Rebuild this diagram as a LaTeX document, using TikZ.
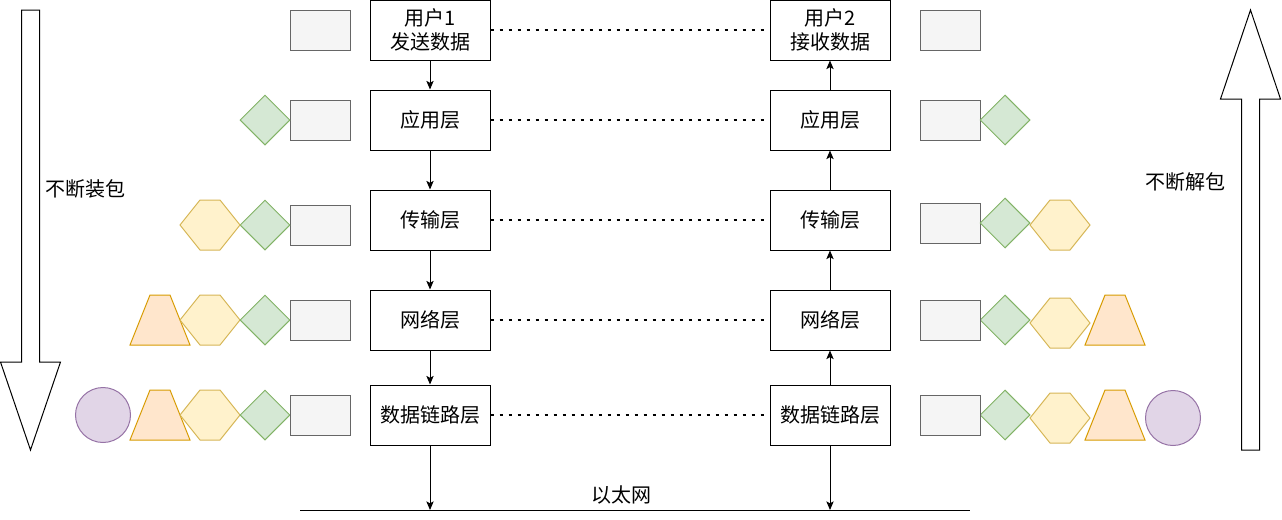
\documentclass[tikz,border=0pt]{standalone}
\usepackage{fontspec}
\setmainfont{Noto Sans CJK SC}
\usetikzlibrary{arrows.meta,positioning,shapes.geometric}

\definecolor{dataFill}{HTML}{F5F5F5}
\definecolor{dataLine}{HTML}{666666}
\definecolor{appFill}{HTML}{D5E8D4}
\definecolor{appLine}{HTML}{82B366}
\definecolor{tcpFill}{HTML}{FFF2CC}
\definecolor{tcpLine}{HTML}{D6B656}
\definecolor{ipFill}{HTML}{FFE6CC}
\definecolor{ipLine}{HTML}{D79B00}
\definecolor{macFill}{HTML}{E1D5E7}
\definecolor{macLine}{HTML}{9673A6}

\begin{document}
\begin{tikzpicture}[
  x=0.75pt, y=-0.75pt,
  font=\fontsize{15}{17.5}\selectfont,
  >={Stealth[length=6.5pt, width=5.5pt, inset=1.5pt]},
  layer/.style={rectangle, draw=black, line width=0.75pt, align=center,
                minimum width=90pt, minimum height=45pt, inner sep=0pt},
  arr/.style={->, line width=0.75pt},
  peer/.style={line width=2pt, dash pattern=on 2.25pt off 4.5pt},
  payload/.style={rectangle, draw=dataLine, fill=dataFill, line width=0.75pt,
                  minimum width=45pt, minimum height=30pt, inner sep=0pt},
  apphdr/.style={diamond, draw=appLine, fill=appFill, line width=0.75pt,
                 minimum width=37.5pt, minimum height=37.5pt, inner sep=0pt},
  machdr/.style={circle, draw=macLine, fill=macFill, line width=0.75pt,
                 minimum size=41.25pt, inner sep=0pt},
  tcphdr/.pic={\draw[draw=tcpLine, fill=tcpFill, line width=0.75pt]
                 (-30,0) -- (-10,-25) -- (10,-25) -- (30,0) -- (10,25) -- (-10,25) -- cycle;},
  iphdr/.pic={\draw[draw=ipLine, fill=ipFill, line width=0.75pt]
                 (-30,25) -- (-10,-25) -- (10,-25) -- (30,25) -- cycle;},
  bigarr/.style={draw=black, line width=0.75pt, fill=white},
]
\useasboundingbox (0,0) rectangle (1282,519);

% ------------------------------------------------------------ sender stack
\node[layer] (u1) at (430,30) {用户1\\发送数据};
\node[layer, below=21.75pt of u1] (a1) {应用层};
\node[layer, below=29.25pt of a1] (t1) {传输层};
\node[layer, below=29.25pt of t1] (n1) {网络层};
\node[layer, below=25.5pt of n1] (l1) {数据链路层};

% ---------------------------------------------------------- receiver stack
\node[layer, right=209.25pt of u1] (u2) {用户2\\接收数据};
\node[layer, right=209.25pt of a1] (a2) {应用层};
\node[layer, right=209.25pt of t1] (t2) {传输层};
\node[layer, right=209.25pt of n1] (n2) {网络层};
\node[layer, right=209.25pt of l1] (l2) {数据链路层};

\draw[arr] (u1) -- (a1);
\draw[arr] (a1) -- (t1);
\draw[arr] (t1) -- (n1);
\draw[arr] (n1) -- (l1);

\draw[arr] (l2) -- (n2);
\draw[arr] (n2) -- (t2);
\draw[arr] (t2) -- (a2);
\draw[arr] (a2) -- (u2);

\draw[peer] (u1) -- (u2);
\draw[peer] (a1) -- (a2);
\draw[peer] (t1) -- (t2);
\draw[peer] (n1) -- (n2);
\draw[peer] (l1) -- (l2);

% ---------------------------------------------------------------- ethernet
\coordinate (ethL) at (300,510);
\coordinate (ethR) at (970,510);
\draw[line width=0.75pt] (ethL) -- (ethR);
\node (eth) at (621,495) {以太网};
\draw[arr] (l1) -- (l1 |- ethL);
\draw[arr] (l2) -- (l2 |- ethL);

% --------------------------------------------------- encapsulation (left)
\node[payload] (sd1) at (320,30) {};
\node[payload] (sd2) at (320,120) {};
\node[apphdr]  (sa2) at (265,120) {};
\node[payload] (sd3) at (320,225) {};
\node[apphdr]  (sa3) at (265,225) {};
\pic at (210,225) {tcphdr};
\pic at (160,320) {iphdr};
\pic at (210,320) {tcphdr};
\node[apphdr]  (sa4) at (265,320) {};
\node[payload] (sd4) at (320,320) {};
\node[machdr]  (sm5) at (103,415) {};
\pic at (160,415) {iphdr};
\pic at (210,415) {tcphdr};
\node[apphdr]  (sa5) at (265,415) {};
\node[payload] (sd5) at (320,415) {};

% ------------------------------------------------ decapsulation (right)
\node[payload] (rd1) at (950,30) {};
\node[payload] (rd2) at (950,120) {};
\node[apphdr]  (ra2) at (1005,120) {};
\node[payload] (rd3) at (950,223) {};
\node[apphdr]  (ra3) at (1005,223) {};
\pic at (1060,225) {tcphdr};
\pic at (1060,323) {tcphdr};
\pic at (1115,320) {iphdr};
\node[apphdr]  (ra4) at (1005,320) {};
\node[payload] (rd4) at (950,320) {};
\node[machdr]  (rm5) at (1173,418) {};
\pic at (1060,418) {tcphdr};
\pic at (1115,415) {iphdr};
\node[apphdr]  (ra5) at (1005,415) {};
\node[payload] (rd5) at (950,415) {};

% ------------------------------------------------------------ big arrows
\draw[bigarr] (21.5,10) -- (39.5,10) -- (39.5,362) -- (60.5,362) -- (30.5,450)
  -- (0.5,362) -- (21.5,362) -- cycle;
\node (packL) at (85,189) {不断装包};

\draw[bigarr] (1241.5,450) -- (1259.5,450) -- (1259.5,99) -- (1280.5,99) -- (1250.5,10)
  -- (1220.5,99) -- (1241.5,99) -- cycle;
\node (unpackR) at (1185,182) {不断解包};
\end{tikzpicture}
\end{document}
